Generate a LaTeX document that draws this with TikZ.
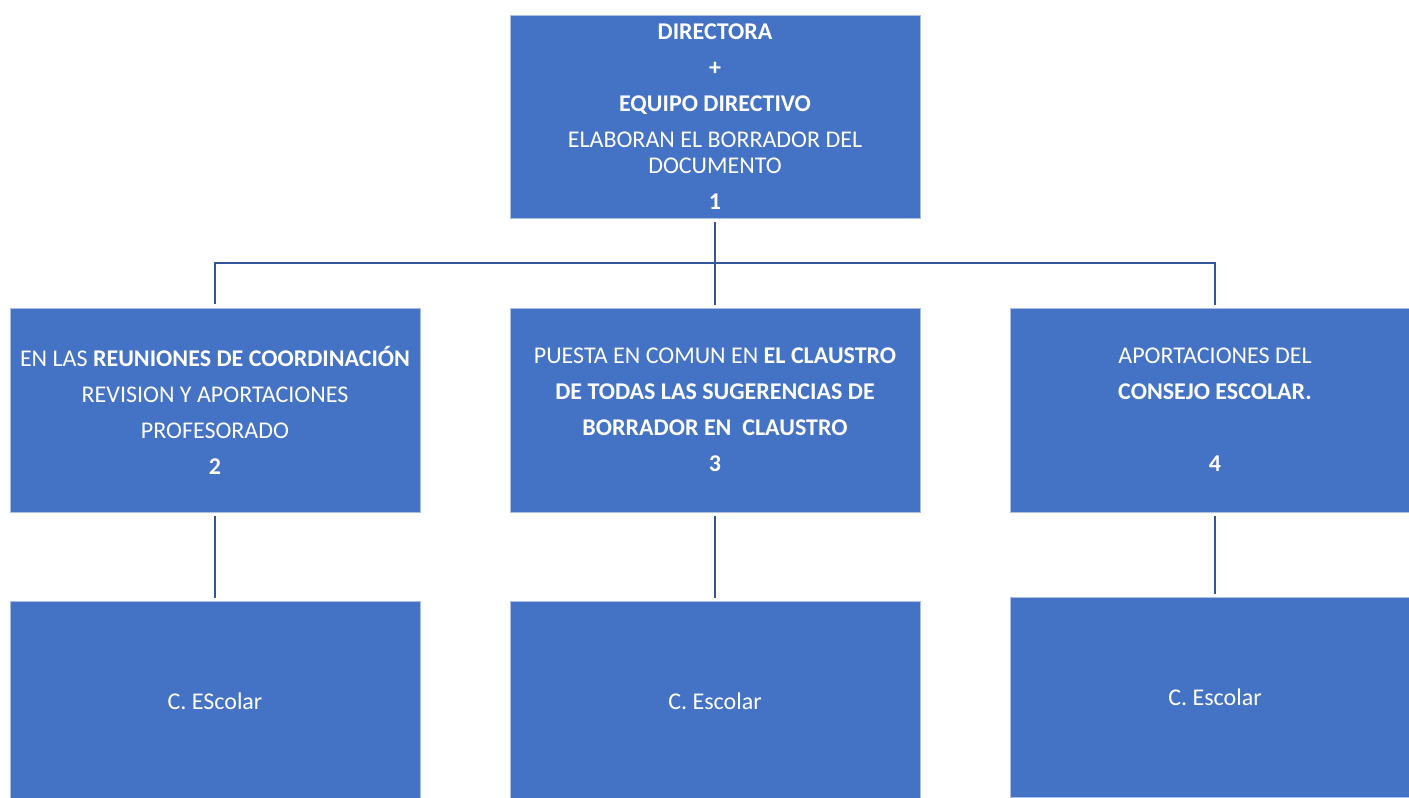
\documentclass[tikz,border=0pt]{standalone}
\usepackage{fontspec}
\setmainfont{Carlito}
\definecolor{boxblue}{RGB}{68,114,196}
\definecolor{linkblue}{RGB}{52,86,152}
\definecolor{boxedge}{RGB}{170,190,230}
\begin{document}
\begin{tikzpicture}[x=0.5pt,y=-0.5pt,
    stage/.style={fill=boxblue,draw=boxedge,line width=0.4pt,text=white,
      minimum width=205pt,minimum height=102pt,inner sep=0pt,align=center,
      font=\fontsize{12}{13}\selectfont},
    link/.style={linkblue,line width=1pt,shorten <=1.8pt,shorten >=1.5pt}]
    \clip (0,0) rectangle (1409,798);
    \fill[white] (0,0) rectangle (1409,798);

    \node[stage,minimum height=101.5pt] (top) at (715,116.5)
      {\textbf{DIRECTORA}\\[5pt] \textbf{+}\\[5pt] \textbf{EQUIPO DIRECTIVO}\\[5pt]
       ELABORAN EL BORRADOR DEL\\ DOCUMENTO\\[5pt] \textbf{1}};

    \node[stage] (mid1) at (215,410)
      {EN LAS \textbf{REUNIONES DE COORDINACIÓN}\\[5pt] REVISION Y APORTACIONES\\[5pt]
       PROFESORADO\\[5pt] \textbf{2}};
    \node[stage] (mid2) at (715,410)
      {PUESTA EN COMUN EN \textbf{EL CLAUSTRO}\\[5pt] \textbf{DE TODAS LAS SUGERENCIAS DE}\\[5pt]
       \textbf{BORRADOR EN\ \ CLAUSTRO}\\[5pt] \textbf{3}};
    \node[stage] (mid3) at (1215,410)
      {APORTACIONES DEL\\[5pt] \textbf{CONSEJO ESCOLAR.}\\[5pt] \mbox{}\\[5pt] \textbf{4}};

    \node[stage,anchor=north,minimum height=100pt] (low1) at (215,601) {C. EScolar};
    \node[stage,anchor=north,minimum height=100pt] (low2) at (715,601) {C. Escolar};
    \node[stage,anchor=north,minimum height=100pt] (low3) at (1215,597) {C. Escolar};

    \coordinate (hub) at (715,263);
    \draw[link] (top) -- (mid2);
    \draw[link] (mid1) |- (hub) -| (mid3);
    \draw[link] (mid1) -- (low1);
    \draw[link] (mid2) -- (low2);
    \draw[link] (mid3) -- (low3);
\end{tikzpicture}
\end{document}
